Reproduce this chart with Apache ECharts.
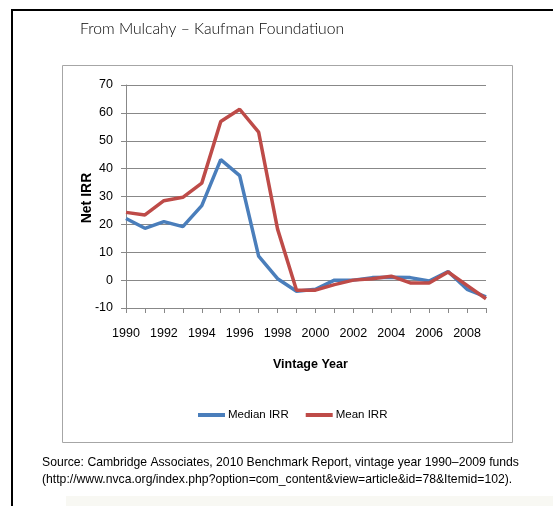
<!DOCTYPE html>
<html><head><meta charset="utf-8">
<script src="https://cdn.jsdelivr.net/npm/echarts@6/dist/echarts.min.js"></script>
<style>html,body{margin:0;padding:0;background:#fff}#c{width:553px;height:506px}</style>
</head><body><div id="c"></div>
<script>
const years = ['1990','1991','1992','1993','1994','1995','1996','1997','1998','1999','2000','2001','2002','2003','2004','2005','2006','2007','2008','2009'];
const medianIRR = [22.1,18.6,21.0,19.2,26.7,43.2,37.5,8.6,0.5,-4.0,-3.3,0.0,0.0,0.9,1.0,0.9,-0.3,3.1,-3.3,-6.0];
const meanIRR = [24.3,23.4,28.5,29.7,34.8,56.9,61.3,53.1,18.3,-3.6,-3.6,-1.6,0.0,0.5,1.4,-1.0,-1.0,2.9,-1.9,-6.7];
const yTicks = {min:-10, max:70, interval:10};
const titleText = 'From Mulcahy \u2013 Kaufman Foundatiuon';
const sourceLines = ['Source: Cambridge Associates, 2010 Benchmark Report, vintage year 1990\u20132009 funds',
  '(http://www.nvca.org/index.php?option=com_content&view=article&id=78&Itemid=102).'];

const chart = echarts.init(document.getElementById('c'), null, {renderer:'canvas'});
const axisFont = '"Liberation Sans", sans-serif';
chart.setOption({
  animation:false,
  backgroundColor:'#fff',
  grid:{left:126, right:67, top:85, bottom:198, containLabel:false},
  xAxis:{type:'category', data:years, boundaryGap:false,
    axisLine:{onZero:false, lineStyle:{color:'#888', width:1}},
    axisTick:{show:true, interval:0, length:5, lineStyle:{color:'#888'}},
    axisLabel:{interval:1, color:'#000', fontFamily:axisFont, fontSize:12.5, margin:19}},
  yAxis:{type:'value', min:yTicks.min, max:yTicks.max, interval:yTicks.interval,
    axisLine:{show:true, lineStyle:{color:'#888'}},
    axisTick:{show:true, length:5, lineStyle:{color:'#888'}},
    axisLabel:{color:'#000', fontFamily:axisFont, fontSize:12.5, margin:13},
    splitLine:{lineStyle:{color:'#888', width:1}}},
  legend:{left:198, top:409, padding:0, itemWidth:27, itemHeight:4, itemGap:17, icon:'rect',
    textStyle:{fontFamily:axisFont, fontSize:11.5, color:'#000', padding:[0,0,0,-2]},
    data:['Median IRR','Mean IRR']},
  series:[
    {name:'Median IRR', type:'line', data:medianIRR, showSymbol:false, symbol:'none',
      lineStyle:{color:'#4a7ebb', width:3.5}, itemStyle:{color:'#4a7ebb'}},
    {name:'Mean IRR', type:'line', data:meanIRR, showSymbol:false, symbol:'none',
      lineStyle:{color:'#be4b48', width:3.5}, itemStyle:{color:'#be4b48'}}
  ],
  graphic:[
    {type:'rect', shape:{x:11, y:9, width:542, height:2}, style:{fill:'#000'}, z:-1},
    {type:'rect', shape:{x:11, y:9, width:2, height:497}, style:{fill:'#000'}, z:-1},
    {type:'rect', shape:{x:62.5, y:65.5, width:450, height:377}, style:{fill:'none', stroke:'#a6a6a6', lineWidth:1}, z:-1},
    {type:'rect', shape:{x:66, y:496, width:487, height:10}, style:{fill:'#f8f8f3'}, z:-1},
    {type:'text', left:80, top:21, style:{text:titleText, fontFamily:'Lato, "DejaVu Sans", sans-serif', fontWeight:300, fontSize:15.7, fill:'#000'}},
    {type:'text', left:273, top:358, style:{text:'Vintage Year', fontFamily:axisFont, fontWeight:'bold', fontSize:12.5, fill:'#000'}},
    {type:'text', x:87, y:198, rotation:Math.PI/2, style:{text:'Net IRR', fontFamily:axisFont, fontWeight:'bold', fontSize:14, fill:'#000', align:'center', verticalAlign:'middle'}},
    {type:'text', left:42, top:457, style:{text:sourceLines[0], fontFamily:axisFont, fontSize:12.2, fill:'#000'}},
    {type:'text', left:42, top:474, style:{text:sourceLines[1], fontFamily:axisFont, fontSize:12.2, fill:'#000'}}
  ]
});
</script></body></html>
